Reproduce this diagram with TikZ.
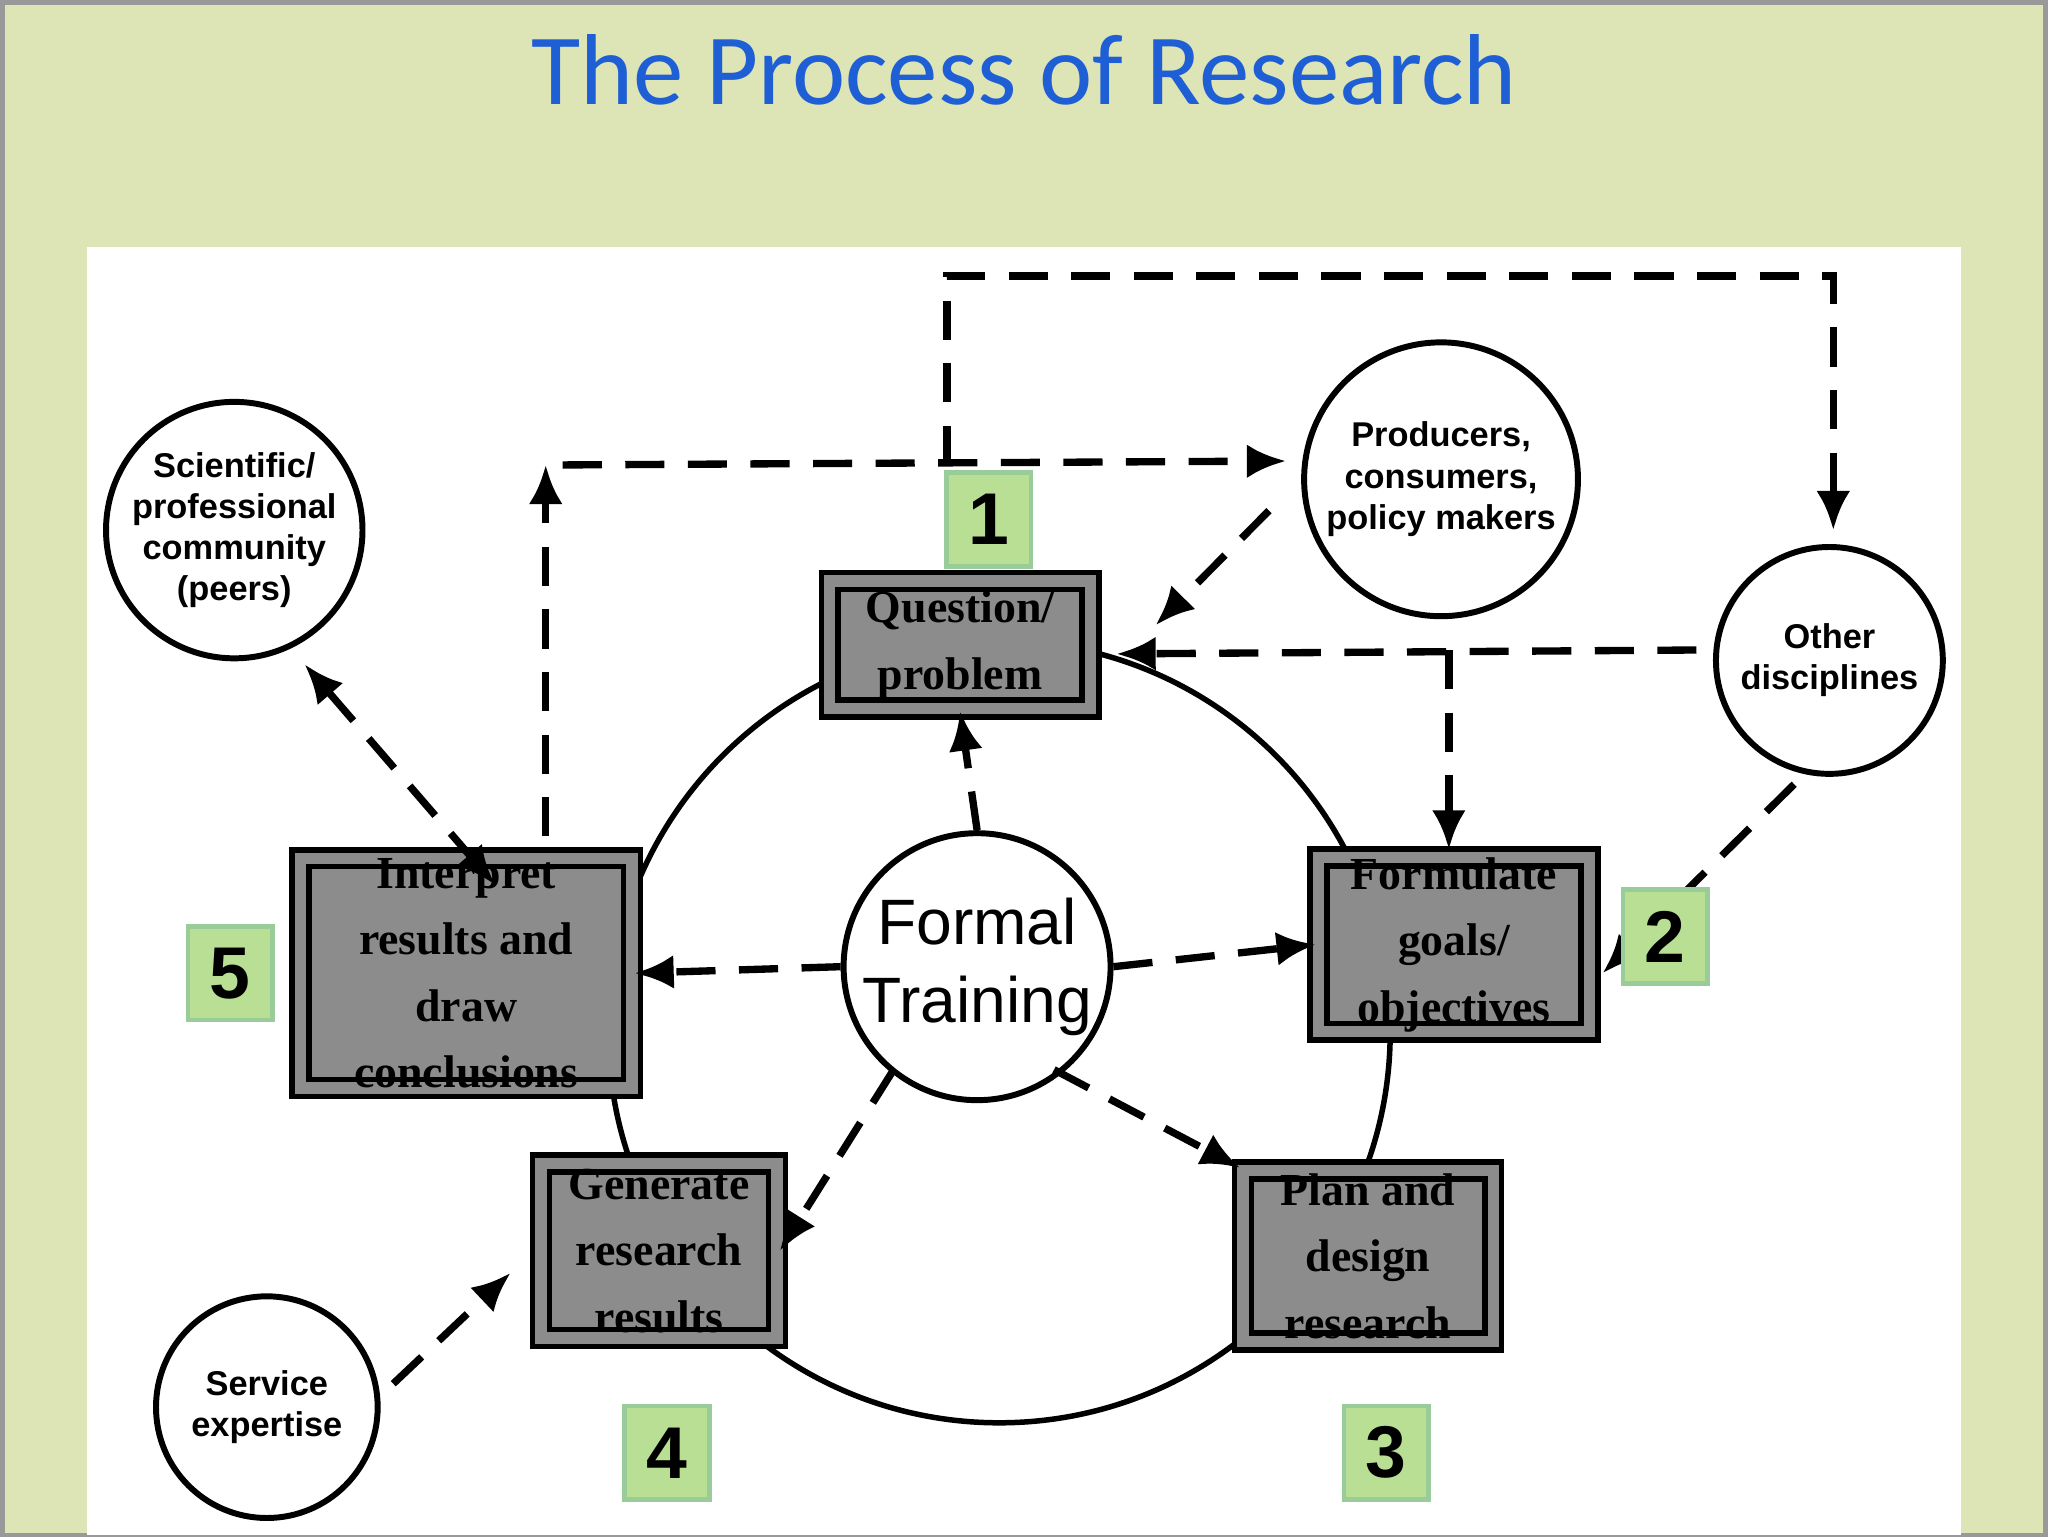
\documentclass[tikz,border=0pt]{standalone}
\usepackage{fontspec}
\setmainfont{Liberation Serif}
\newfontfamily\carl{Carlito}
\newfontfamily\lsans{Liberation Sans}
\usetikzlibrary{arrows.meta}
\definecolor{bgg}{HTML}{DDE5B6}
\definecolor{ttl}{HTML}{1F5FD6}
\definecolor{numg}{HTML}{B9DF95}
\begin{document}
\begin{tikzpicture}[x=0.01cm,y=-0.01cm,
 box/.style={draw,line width=1.2pt,double=black!45,double distance=2.5pt,fill=black!45,inner sep=0pt,
   font=\fontsize{10}{14.5}\selectfont\bfseries,align=center},
 circ/.style={draw,circle,line width=1.3pt,fill=white,font=\lsans\bfseries\fontsize{7.5}{9}\selectfont,align=center,inner sep=0pt},
 dsh/.style={line width=1.6pt,dash pattern=on 3mm off 1.8mm},
 arr/.style={dsh,-{Latex[length=3mm,width=2.6mm]}},
 num/.style={draw=green!50!black!40,line width=1pt,fill=numg,minimum width=0.65cm,minimum height=0.72cm,
   font=\lsans\bfseries\fontsize{16}{16}\selectfont}]
\fill[bgg] (0,0) rectangle (1568,1176);
\draw[black!40,line width=1pt] (0,0) rectangle (1568,1176);
\fill[white] (65,188) rectangle (1503,1176);
\node[text=ttl,font=\carl\fontsize{22}{22}\selectfont] (title) at (784,52) {The Process of Research};
% big cycle circle
\draw[line width=1.2pt] (765,790) circle (300);
% outer circles
\node[circ,minimum size=1.9cm] (sci) at (178,405) {Scientific/\\professional\\community\\(peers)};
\node[circ,minimum size=2.1cm] (prod) at (1104,366) {Producers,\\consumers,\\policy makers};
\node[circ,minimum size=1.74cm] (oth) at (1402,505) {Other\\disciplines};
\node[circ,minimum size=1.7cm] (serv) at (203,1078) {Service\\expertise};
\node[circ,minimum size=1.96cm,font=\lsans\fontsize{14}{17}\selectfont] (ft) at (748,740) {Formal\\Training};
% boxes
\node[box,minimum width=2.0cm,minimum height=0.98cm] (q) at (735,493) {Question/\\problem};
\node[box,minimum width=2.08cm,minimum height=1.33cm] (f) at (1114,723) {Formulate\\goals/\\objectives};
\node[box,minimum width=1.92cm,minimum height=1.31cm] (p) at (1048,962) {Plan and\\design\\research};
\node[box,minimum width=1.81cm,minimum height=1.34cm] (g) at (504,958) {Generate\\research\\results};
\node[box,minimum width=2.54cm,minimum height=1.66cm] (i) at (356,745) {Interpret\\results and\\draw\\conclusions};
% arrows from formal training
\draw[arr] (ft.north) -- (q.south);
\draw[arr] (ft.west) -- (i.east);
\draw[arr] (ft.east) -- (f.west);
\draw[arr] (ft.south west) ++(10,5) -- (g.east);
\draw[arr] (ft.south east) ++(-15,5) -- (p.north west);
% interpret to producers
\coordinate (i1) at (417,640);
\coordinate (i2) at (417,355);
\coordinate (pw) at (985,352);
\draw[arr] (i1) -- (i2);
\draw[arr] (430,355) -- (pw);
% top loop
\coordinate (t1) at (725,355);
\coordinate (t2) at (725,210);
\coordinate (t3) at (1405,210);
\coordinate (t4) at (1405,405);
\draw[arr] (t1) -- (t2) -- (t3) -- (t4);
% producers to question
\draw[arr] (972,390) -- (885,478);
% other to question and formulate
\coordinate (o1) at (1300,497);
\coordinate (qe) at (855,500);
\draw[arr] (o1) -- (qe);
\draw[arr] (1110,497) -- (1110,650);
\draw[arr] (1375,600) -- (1228,745);
% scientific <-> interpret
\draw[dsh,{Latex[length=3mm,width=2.6mm]}-{Latex[length=3mm,width=2.6mm]}] (232,508) -- (378,677);
% service -> generate
\draw[arr] (300,1060) -- (390,975);
% numbers
\node[num] (n1) at (757,397) {1};
\node[num] (n2) at (1276,717) {2};
\node[num] (n3) at (1062,1113) {3};
\node[num] (n4) at (510,1113) {4};
\node[num] (n5) at (175,745) {5};
\end{tikzpicture}
\end{document}
